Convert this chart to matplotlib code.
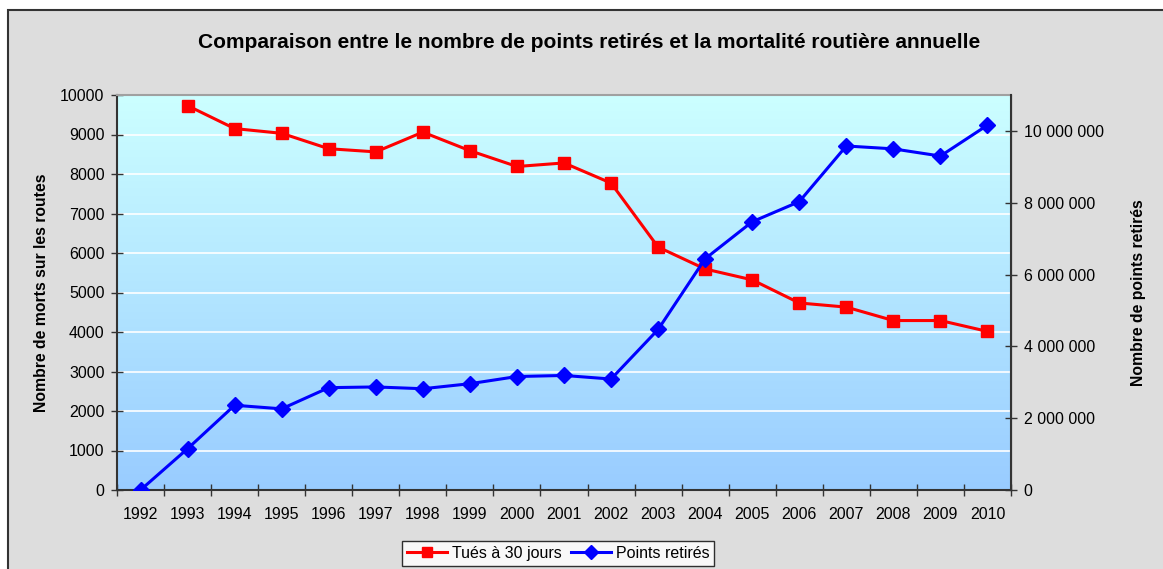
import numpy as np
import matplotlib
matplotlib.use("Agg")
import matplotlib.pyplot as plt
from matplotlib.patches import Rectangle
from matplotlib.ticker import FuncFormatter, FixedLocator

plt.rcParams['font.family'] = ['Liberation Sans', 'DejaVu Sans']

years = [str(y) for y in range(1992, 2011)]
tues = [np.nan, 9730, 9150, 9030, 8640, 8560, 9060, 8590, 8190, 8280,
        7770, 6150, 5595, 5320, 4735, 4630, 4290, 4290, 4015]
points = [0, 1150000, 2360000, 2260000, 2850000, 2870000, 2820000, 2960000,
          3160000, 3190000, 3090000, 4470000, 6440000, 7470000, 8030000,
          9580000, 9500000, 9300000, 10160000]

title = "Comparaison entre le nombre de points retirés et la mortalité routière annuelle"
ylabel_left = "Nombre de morts sur les routes"
ylabel_right = "Nombre de points retirés"
label_tues = "Tués à 30 jours"
label_points = "Points retirés"

W, H = 1163, 569
fig = plt.figure(figsize=(W / 100, H / 100), dpi=100)
fig.patch.set_facecolor('white')
fig.patches.append(Rectangle((8 / W, -0.1), 1.2, 1 - 10 / H + 0.1,
                             transform=fig.transFigure, facecolor='#DDDDDD',
                             edgecolor='#333333', linewidth=1.5, zorder=-10))

ax = fig.add_axes([117 / W, 1 - 490 / H, (1011 - 117) / W, (490 - 95) / H])
n = len(years)
x = np.arange(n)

# gradient background
grad = np.linspace(0, 1, 256).reshape(-1, 1)
top = np.array([0xCC, 0xFF, 0xFF]) / 255
bot = np.array([0x99, 0xCC, 0xFF]) / 255
img = top[None, None, :] * (1 - grad[:, :, None]) + bot[None, None, :] * grad[:, :, None]
ax.imshow(img, extent=[-0.5, n - 0.5, 0, 10000], aspect='auto', origin='upper', zorder=0)

ax.set_xlim(-0.5, n - 0.5)
ax.set_ylim(0, 10000)
for yv in range(1000, 10000, 1000):
    ax.axhline(yv, color='white', lw=1.2, zorder=1)

l1, = ax.plot(x, tues, color='#FF0000', lw=2.2, marker='s', markersize=9,
              markeredgecolor='#FF0000', label=label_tues, zorder=3)

ax.set_yticks(range(0, 10001, 1000))
ax.tick_params(axis='y', direction='inout', length=8, width=1, color='#333333',
               labelsize=11.5, pad=5)
ax.xaxis.set_major_locator(FixedLocator(np.arange(-0.5, n, 1.0)))
ax.xaxis.set_major_formatter(FuncFormatter(lambda v, p: ''))
ax.xaxis.set_minor_locator(FixedLocator(x))
ax.set_xticklabels(years, minor=True)
ax.tick_params(axis='x', which='major', direction='inout', length=9, width=1, color='#333333')
ax.tick_params(axis='x', which='minor', length=0, labelsize=11.5, pad=12)
ax.set_ylabel(ylabel_left, fontsize=11.3, fontweight='bold', labelpad=8)

for s in ['left', 'bottom']:
    ax.spines[s].set_color('#333333')
    ax.spines[s].set_linewidth(1.5)
ax.spines['top'].set_color('#A0A0A0')
ax.spines['top'].set_linewidth(1.5)

ax2 = ax.twinx()
l2, = ax2.plot(x, points, color='#0000FF', lw=2.2, marker='D', markersize=8.5,
               markeredgecolor='#0000FF', label=label_points, zorder=4)
ax2.set_ylim(0, 11000000)
ax2.set_yticks(range(0, 10000001, 2000000))
ax2.yaxis.set_major_formatter(FuncFormatter(lambda v, p: f"{int(v):,}".replace(',', ' ')))
ax2.tick_params(axis='y', direction='inout', length=8, width=1, color='#333333',
                labelsize=11.5, pad=5)
ax2.set_ylabel(ylabel_right, fontsize=11.3, fontweight='bold', labelpad=20)
ax2.spines['right'].set_color('#333333')
ax2.spines['right'].set_linewidth(1.5)
for s in ['left', 'bottom', 'top']:
    ax2.spines[s].set_visible(False)

fig.text(589 / W, 1 - 42 / H, title, ha='center', va='center', fontsize=15, fontweight='bold')

leg = fig.legend(handles=[l1, l2], loc='upper center', bbox_to_anchor=(558 / W, 1 - 541 / H),
                 ncol=2, frameon=True, fancybox=False, fontsize=11.5,
                 handlelength=2.5, columnspacing=0.6, handletextpad=0.3,
                 borderpad=0.3, borderaxespad=0, markerscale=0.8)
leg.get_frame().set_edgecolor('black')
leg.get_frame().set_linewidth(1.0)
leg.get_frame().set_facecolor('white')

fig.savefig('out.png', dpi=100, facecolor=fig.get_facecolor())
